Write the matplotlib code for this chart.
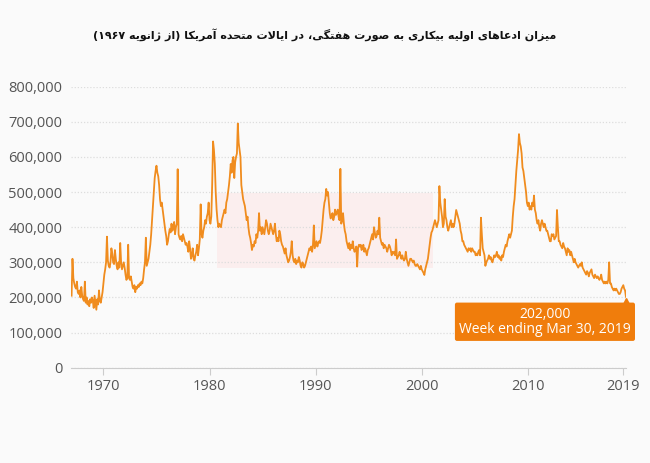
"""
Weekly initial jobless claims in the US since January 1967.
"""

import re
import numpy as np
import matplotlib
matplotlib.use('Agg')
import matplotlib.pyplot as plt
from matplotlib.patches import Rectangle
from matplotlib.ticker import FuncFormatter
from matplotlib.transforms import offset_copy

# Monthly readings of the weekly series, in thousands
claims_1967 = [205, 310, 255, 240, 230, 225, 245, 215, 210, 220, 200, 230]
claims_1968 = [205, 195, 190, 245, 185, 200, 180, 190, 175, 195, 185, 200]
claims_1969 = [190, 170, 205, 185, 165, 195, 180, 220, 190, 185, 200, 215]
claims_1970 = [240, 265, 280, 300, 373, 305, 290, 285, 300, 340, 325, 300]
claims_1971 = [295, 335, 310, 290, 280, 300, 285, 355, 300, 280, 290, 300]
claims_1972 = [285, 265, 250, 255, 350, 255, 250, 260, 245, 230, 225, 235]
claims_1973 = [215, 230, 225, 235, 230, 240, 235, 245, 240, 255, 280, 300]
claims_1974 = [370, 290, 300, 310, 330, 350, 380, 420, 460, 500, 540, 560]
claims_1975 = [575, 555, 545, 520, 480, 460, 470, 450, 430, 410, 390, 375]
claims_1976 = [350, 360, 380, 395, 385, 410, 390, 400, 415, 380, 400, 410]
claims_1977 = [565, 380, 370, 365, 375, 360, 380, 370, 360, 350, 355, 345]
claims_1978 = [330, 360, 340, 310, 320, 340, 310, 305, 320, 330, 350, 320]
claims_1979 = [340, 365, 465, 380, 370, 390, 400, 420, 410, 430, 440, 470]
claims_1980 = [420, 410, 430, 520, 644, 620, 580, 500, 450, 420, 400, 410]
claims_1981 = [405, 400, 420, 430, 440, 450, 440, 470, 480, 500, 520, 545]
claims_1982 = [580, 555, 590, 600, 540, 585, 600, 610, 695, 640, 620, 600]
claims_1983 = [520, 500, 480, 470, 460, 440, 420, 430, 400, 380, 370, 355]
claims_1984 = [335, 350, 345, 360, 355, 380, 370, 390, 440, 390, 400, 380]
claims_1985 = [400, 390, 380, 400, 420, 410, 390, 380, 390, 410, 400, 390]
claims_1986 = [380, 390, 410, 380, 360, 370, 360, 390, 380, 360, 350, 345]
claims_1987 = [335, 325, 340, 320, 310, 300, 305, 315, 330, 360, 320, 305]
claims_1988 = [300, 310, 295, 305, 300, 315, 305, 290, 285, 300, 295, 285]
claims_1989 = [290, 300, 310, 320, 330, 340, 335, 345, 330, 350, 405, 340]
claims_1990 = [350, 360, 345, 355, 360, 355, 370, 390, 420, 450, 470, 480]
claims_1991 = [509, 490, 500, 470, 440, 425, 430, 440, 420, 430, 450, 435]
claims_1992 = [440, 450, 430, 420, 566, 410, 420, 440, 410, 390, 380, 360]
claims_1993 = [350, 340, 355, 335, 350, 340, 360, 340, 330, 335, 345, 288]
claims_1994 = [340, 350, 345, 350, 335, 340, 350, 330, 340, 330, 320, 335]
claims_1995 = [340, 350, 360, 370, 380, 365, 400, 385, 370, 375, 390, 380]
claims_1996 = [427, 370, 360, 350, 355, 340, 350, 345, 340, 330, 340, 350]
claims_1997 = [345, 335, 320, 330, 325, 330, 320, 365, 310, 315, 320, 330]
claims_1998 = [320, 310, 320, 310, 305, 310, 330, 310, 300, 290, 300, 310]
claims_1999 = [310, 305, 300, 305, 295, 290, 290, 295, 290, 285, 280, 290]
claims_2000 = [280, 275, 270, 264, 280, 290, 300, 310, 330, 350, 370, 385]
claims_2001 = [390, 400, 410, 420, 410, 400, 410, 420, 517, 470, 450, 430]
claims_2002 = [400, 410, 480, 430, 420, 400, 390, 400, 410, 420, 400, 410]
claims_2003 = [400, 410, 430, 449, 440, 430, 420, 410, 390, 380, 360, 360]
claims_2004 = [350, 345, 340, 335, 330, 340, 335, 340, 330, 340, 335, 330]
claims_2005 = [330, 320, 325, 320, 330, 335, 320, 427, 380, 340, 330, 320]
claims_2006 = [290, 300, 305, 310, 320, 310, 315, 305, 300, 310, 320, 315]
claims_2007 = [320, 330, 315, 320, 310, 315, 305, 320, 315, 330, 340, 350]
claims_2008 = [345, 360, 370, 380, 370, 380, 390, 430, 460, 480, 520, 560]
claims_2009 = [590, 620, 665, 640, 630, 610, 570, 560, 540, 520, 500, 470]
claims_2010 = [460, 470, 450, 460, 450, 470, 460, 490, 450, 440, 420, 410]
claims_2011 = [420, 400, 390, 410, 420, 410, 400, 410, 400, 390, 390, 380]
claims_2012 = [370, 360, 360, 380, 375, 380, 365, 370, 375, 449, 400, 360]
claims_2013 = [360, 350, 345, 340, 355, 345, 340, 330, 320, 340, 330, 335]
claims_2014 = [320, 330, 320, 310, 300, 310, 300, 295, 290, 285, 290, 295]
claims_2015 = [290, 300, 285, 280, 275, 270, 265, 275, 270, 260, 270, 275]
claims_2016 = [280, 265, 260, 255, 265, 260, 255, 260, 255, 250, 255, 265]
claims_2017 = [250, 245, 240, 245, 240, 245, 240, 250, 300, 240, 240, 230]
claims_2018 = [225, 220, 225, 220, 225, 220, 215, 210, 210, 215, 225, 230]
claims_2019 = [235, 225, 220, 202]

year_ticks = [1970, 1980, 1990, 2000, 2010, 2019]
y_ticks = [0, 100000, 200000, 300000, 400000, 500000, 600000, 700000, 800000]

title = "میزان ادعاهای اولیه بیکاری به صورت هفتگی، در ایالات متحده آمریکا (از ژانویه ۱۹۶۷)"
last_label = "202,000\nWeek ending Mar 30, 2019"

LINE_COLOR = '#f08c1e'
BOX_COLOR = '#f07d0c'
BG = '#fafafa'

# --- minimal Persian shaping (matplotlib has no RTL / joining support) ---
# isolated, final, initial, medial
FORMS = {
    'ا': ('\uFE8D', '\uFE8E', None, None),
    'آ': ('\uFE81', '\uFE82', None, None),
    'د': ('\uFEA9', '\uFEAA', None, None),
    'ر': ('\uFEAD', '\uFEAE', None, None),
    'ز': ('\uFEAF', '\uFEB0', None, None),
    'ژ': ('\uFB8A', '\uFB8B', None, None),
    'و': ('\uFEED', '\uFEEE', None, None),
    'ب': ('\uFE8F', '\uFE90', '\uFE91', '\uFE92'),
    'ت': ('\uFE95', '\uFE96', '\uFE97', '\uFE98'),
    'ح': ('\uFEA1', '\uFEA2', '\uFEA3', '\uFEA4'),
    'ص': ('\uFEB9', '\uFEBA', '\uFEBB', '\uFEBC'),
    'ع': ('\uFEC9', '\uFECA', '\uFECB', '\uFECC'),
    'ف': ('\uFED1', '\uFED2', '\uFED3', '\uFED4'),
    'ک': ('\uFB8E', '\uFB8F', '\uFB90', '\uFB91'),
    'گ': ('\uFB92', '\uFB93', '\uFB94', '\uFB95'),
    'ل': ('\uFEDD', '\uFEDE', '\uFEDF', '\uFEE0'),
    'م': ('\uFEE1', '\uFEE2', '\uFEE3', '\uFEE4'),
    'ن': ('\uFEE5', '\uFEE6', '\uFEE7', '\uFEE8'),
    'ه': ('\uFEE9', '\uFEEA', '\uFEEB', '\uFEEC'),
    'ی': ('\uFBFC', '\uFBFD', '\uFBFE', '\uFBFF'),
}
LAM_ALEF = ('\uFEFB', '\uFEFC')


def joins_left(c):
    return c in FORMS and FORMS[c][2] is not None


def shape(text):
    out = []
    i = 0
    while i < len(text):
        c = text[i]
        prev = text[i - 1] if i > 0 else ''
        nxt = text[i + 1] if i + 1 < len(text) else ''
        if c not in FORMS:
            out.append(c)
            i += 1
            continue
        p = joins_left(prev)
        if c == 'ل' and nxt == 'ا':
            out.append(LAM_ALEF[1] if p else LAM_ALEF[0])
            i += 2
            continue
        n = joins_left(c) and nxt in FORMS
        iso, fin, ini, med = FORMS[c]
        if p and n:
            out.append(med)
        elif p:
            out.append(fin)
        elif n:
            out.append(ini)
        else:
            out.append(iso)
        i += 1
    return ''.join(out)


def rtl(text):
    vis = shape(text)[::-1]
    vis = vis.translate(str.maketrans('()', ')('))
    # digit runs keep left-to-right order
    vis = re.sub('[۰-۹0-9]+', lambda m: m.group(0)[::-1], vis)
    return vis


claims = np.array(
    claims_1967 + claims_1968 + claims_1969 + claims_1970 + claims_1971 +
    claims_1972 + claims_1973 + claims_1974 + claims_1975 + claims_1976 +
    claims_1977 + claims_1978 + claims_1979 + claims_1980 + claims_1981 +
    claims_1982 + claims_1983 + claims_1984 + claims_1985 + claims_1986 +
    claims_1987 + claims_1988 + claims_1989 + claims_1990 + claims_1991 +
    claims_1992 + claims_1993 + claims_1994 + claims_1995 + claims_1996 +
    claims_1997 + claims_1998 + claims_1999 + claims_2000 + claims_2001 +
    claims_2002 + claims_2003 + claims_2004 + claims_2005 + claims_2006 +
    claims_2007 + claims_2008 + claims_2009 + claims_2010 + claims_2011 +
    claims_2012 + claims_2013 + claims_2014 + claims_2015 + claims_2016 +
    claims_2017 + claims_2018 + claims_2019) * 1000.0
years = 1967 + np.arange(len(claims)) / 12.0

plt.rcParams['font.family'] = ['Open Sans', 'DejaVu Sans']

fig = plt.figure(figsize=(6.5, 4.63), dpi=100)
fig.patch.set_facecolor(BG)
ax = fig.add_axes([0.109, 0.2058, 0.854, 0.607])
ax.set_facecolor('none')

# faint watermark panel behind the plot
fig.patches.append(Rectangle((217 / 650, 1 - 268 / 463), 216 / 650, 75 / 463,
                             transform=fig.transFigure, facecolor='#fbeeee',
                             edgecolor='none', zorder=-1))

ax.plot(years, claims, color=LINE_COLOR, linewidth=1.3, zorder=3)

ax.set_xlim(1966.93, 2019.25)
ax.set_ylim(0, 800000)
ax.set_yticks(y_ticks)
ax.yaxis.set_major_formatter(FuncFormatter(lambda v, _: f"{int(v):,}"))
ax.set_xticks(year_ticks)
ax.set_xticklabels([str(y) for y in year_ticks])

ax.grid(axis='y', color='#dddddd', linestyle=(0, (1, 1.5)), linewidth=0.9)
ax.set_axisbelow(True)
for side in ['top', 'right', 'left']:
    ax.spines[side].set_visible(False)
ax.spines['bottom'].set_color('#cccccc')
ax.tick_params(axis='y', length=0, pad=6, labelsize=10.5, labelcolor='#555555')
ax.tick_params(axis='x', length=5, width=0.8, color='#cccccc', pad=3,
               labelsize=10.5, labelcolor='#555555')

fig.text(0.5, 1 - 35 / 463, rtl(title), ha='center', va='center',
         fontsize=8, fontweight='bold', color='#111111', family='DejaVu Sans')

# callout for the latest value
ax.annotate(last_label, xy=(years[-1], claims[-1]), xytext=(-81, -25),
            textcoords='offset pixels', ha='center', va='center',
            fontsize=10, color='white', linespacing=1.0, zorder=5,
            bbox=dict(boxstyle='round,pad=0.3,rounding_size=0.15',
                      facecolor=BOX_COLOR, edgecolor='none'))
tri = offset_copy(ax.transData, fig=fig, x=0, y=-5, units='dots')
ax.plot(years[-1:], claims[-1:], marker='^', markersize=6, color=BOX_COLOR,
        transform=tri, clip_on=False, zorder=5)

fig.savefig('out.png', dpi=100, facecolor=BG)
